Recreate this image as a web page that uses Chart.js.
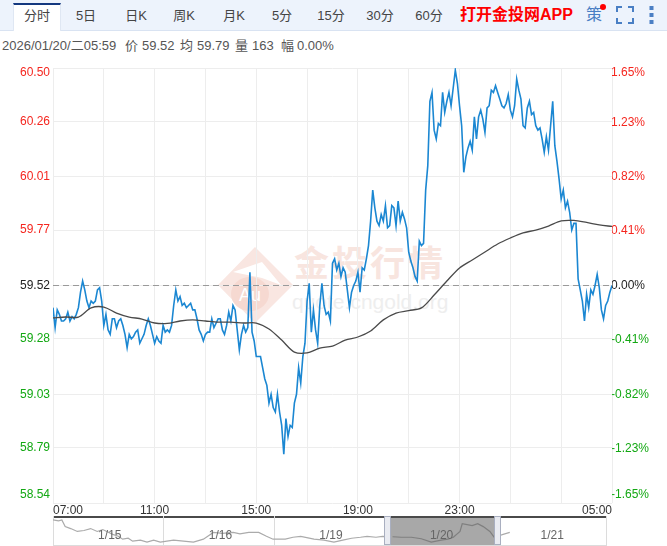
<!DOCTYPE html>
<html lang="zh">
<head>
<meta charset="utf-8">
<title>分时</title>
<script src="https://cdn.jsdelivr.net/npm/chart.js@4/dist/chart.umd.min.js"></script>
<style>
html,body{margin:0;padding:0;background:#fff;width:667px;height:546px;overflow:hidden;font-family:"Liberation Sans","Noto Sans CJK SC",sans-serif}
#wrap{position:relative;width:667px;height:546px;overflow:hidden}
.abs{position:absolute;white-space:nowrap}
#bar{left:0;top:0;width:667px;height:30px;background:#edf3fc;border-bottom:1px solid #d9e3f2}
#tabOn{left:13px;top:3px;width:48px;height:28px;background:#fff;border-top:2px solid #14387f;border-left:1px solid #dfe7f3;border-right:1px solid #dfe7f3;box-sizing:border-box}
.tab{top:8px;font-size:13px;line-height:16px;color:#444;transform:translateX(-50%)}
.info{top:38px;font-size:13px;line-height:16px;color:#555}
#app{left:460px;top:5px;font-size:16px;line-height:20px;font-weight:bold;color:#f00}
#ce{left:586px;top:5px;font-size:16px;line-height:20px;color:#4a7fc4}
#dot{left:600px;top:4px;width:6px;height:6px;border-radius:50%;background:#f00}
canvas{position:absolute;display:block}
#wm{position:absolute;left:0;top:0}
#sel{left:391px;top:518px;width:103px;height:27px;background:#a8a8a8}
.hd{top:516px;width:7px;height:29px;background:#e9ebf1;border:1px solid #a9afc0;box-sizing:border-box}
#navTop{left:53px;top:516px;width:553px;height:2px;background:#4a4a4a}
#navBot{left:53px;top:545px;width:554px;height:1px;background:#dcdcdc}
</style>
</head>
<body>
<div id="wrap">
  <svg id="wm" width="667" height="546" xmlns="http://www.w3.org/2000/svg">
    <polygon points="218,285 255,247 293,285 255,323" fill="#f9e6e1"/>
    <polygon points="233,272 262,262 281,285 262,278" fill="#ffffff"/>
    <ellipse cx="250" cy="294" rx="19" ry="17" fill="#f6d9d1"/>
    <text x="250" y="301" font-size="18" fill="#ffffff" text-anchor="middle" font-family="Liberation Sans">Au</text>
    <text x="294" y="276" font-size="35" letter-spacing="3" font-weight="bold" fill="#f8e5df" font-family="Noto Sans CJK SC">金投行情</text>
    <text x="292" y="309" font-size="21" fill="#eeeeee" font-family="Liberation Sans">quote.cngold.org</text>
  </svg>
  <div id="bar" class="abs"></div>
  <div id="tabOn" class="abs"></div>
  <div class="abs tab" style="left:37px">分时</div>
  <div class="abs tab" style="left:86px">5日</div>
  <div class="abs tab" style="left:136px">日K</div>
  <div class="abs tab" style="left:184px">周K</div>
  <div class="abs tab" style="left:234px">月K</div>
  <div class="abs tab" style="left:282px">5分</div>
  <div class="abs tab" style="left:331px">15分</div>
  <div class="abs tab" style="left:380px">30分</div>
  <div class="abs tab" style="left:429px">60分</div>
  <div id="app" class="abs">打开金投网APP</div>
  <div id="ce" class="abs">策</div>
  <div id="dot" class="abs"></div>
  <svg class="abs" style="left:616px;top:6px" width="18" height="18" fill="none" stroke="#4a7fc4" stroke-width="2">
    <path d="M1 6V1H6M12 1H17V6M17 12V17H12M6 17H1V12"/>
  </svg>
  <svg class="abs" style="left:649px;top:5px" width="6" height="20" fill="#4a7fc4">
    <rect x="0.5" y="1" width="4" height="4"/><rect x="0.5" y="8" width="4" height="4"/><rect x="0.5" y="15" width="4" height="4"/>
  </svg>
  <div class="abs info" style="left:2px">2026/01/20/二05:59</div>
  <div class="abs info" style="left:125px">价</div><div class="abs info" style="left:142px">59.52</div>
  <div class="abs info" style="left:180px">均</div><div class="abs info" style="left:197px">59.79</div>
  <div class="abs info" style="left:235px">量</div><div class="abs info" style="left:252px">163</div>
  <div class="abs info" style="left:281px">幅</div><div class="abs info" style="left:297px">0.00%</div>
  <div id="sel" class="abs"></div>
  <canvas id="main" width="667" height="546" style="left:0;top:0;width:667px;height:546px"></canvas>
  <div id="navTop" class="abs"></div>
  <div id="navBot" class="abs"></div>
  <canvas id="nav" width="554" height="30" style="left:53px;top:516px;width:554px;height:30px"></canvas>
  <div class="abs hd" style="left:384px"></div>
  <div class="abs hd" style="left:494px"></div>
</div>
<script>
// price every 5 minutes from 07:00
const prices = [
59.42,59.33,59.41,59.39,59.36,59.36,59.37,59.40,59.36,59.38,
59.37,59.39,59.42,59.49,59.54,59.50,59.45,59.42,59.45,59.44,
59.45,59.50,59.51,59.45,59.34,59.39,59.32,59.30,59.37,59.37,
59.33,59.36,59.37,59.34,59.30,59.24,59.30,59.28,59.29,59.31,
59.32,59.26,59.28,59.30,59.34,59.37,59.34,59.30,59.26,59.29,
59.27,59.26,59.34,59.31,59.32,59.31,59.34,59.43,59.50,59.45,
59.47,59.43,59.44,59.42,59.43,59.44,59.41,59.41,59.37,59.32,
59.30,59.27,59.30,59.31,59.31,59.37,59.33,59.35,59.37,59.37,
59.32,59.30,59.34,59.40,59.36,59.43,59.41,59.32,59.23,59.30,
59.34,59.31,59.33,59.58,59.31,59.27,59.20,59.20,59.20,59.15,
59.10,59.07,58.99,59.03,58.97,58.95,59.03,58.95,58.89,58.76,
58.92,58.84,58.89,58.88,58.99,59.03,59.15,59.08,59.20,59.26,
59.45,59.53,59.31,59.41,59.32,59.26,59.43,59.53,59.43,59.39,
59.40,59.36,59.62,59.64,59.59,59.62,59.56,59.60,59.58,59.50,
59.42,59.49,59.52,59.54,59.58,59.49,59.60,59.59,59.64,59.70,
59.81,59.95,59.87,59.81,59.79,59.84,59.81,59.88,59.78,59.79,
59.88,59.87,59.79,59.90,59.81,59.85,59.82,59.78,59.67,59.63,
59.60,59.56,59.54,59.72,59.70,59.71,59.95,60.06,60.35,60.39,
60.22,60.18,60.25,60.24,60.39,60.30,60.35,60.39,60.33,60.41,
60.49,60.43,60.33,60.24,60.03,60.10,60.14,60.17,60.13,60.28,
60.18,60.28,60.31,60.27,60.21,60.32,60.33,60.40,60.39,60.42,
60.39,60.36,60.33,60.32,60.34,60.38,60.31,60.28,60.33,60.45,
60.40,60.36,60.24,60.23,60.32,60.35,60.29,60.30,60.24,60.22,
60.23,60.18,60.12,60.19,60.13,60.24,60.35,60.15,60.08,60.00,
59.91,59.95,59.87,59.90,59.85,59.77,59.80,59.80,59.55,59.50,
59.45,59.36,59.48,59.42,59.50,59.48,59.52,59.57,59.51,59.41,
59.37,59.43,59.45,59.49,59.52];
// average price every 30 minutes from 07:00
const averages = [
59.374,59.378,59.378,59.419,59.423,59.396,59.378,59.369,59.351,59.349,
59.360,59.365,59.360,59.355,59.355,59.351,59.351,59.324,59.274,59.220,
59.216,59.238,59.247,59.274,59.288,59.315,59.365,59.396,59.407,59.419,
59.477,59.540,59.599,59.635,59.671,59.707,59.734,59.757,59.770,59.788,
59.811,59.813,59.804,59.793,59.786];
const prevClose = 59.52;
const priceTicks = [58.54,58.79,59.03,59.28,59.52,59.77,60.01,60.26,60.50];
const priceTickLabels = ['58.54','58.79','59.03','59.28','59.52','59.77','60.01','60.26','60.50'];
const pctTicks = [-1.65,-1.2375,-0.825,-0.4125,0,0.4125,0.825,1.2375,1.65];
const pctTickLabels = ['-1.65%','-1.23%','-0.82%','-0.41%','0.00%','0.41%','0.82%','1.23%','1.65%'];
const timeLabels = {0:'07:00',240:'11:00',480:'15:00',720:'19:00',960:'23:00',1320:'05:00'};
const sessionMinutes = 1320;
// navigator: days since 1/15 and price
const navDays = [0,.05,.08,.11,.16,.22,.28,.34,.40,.45,.54,.59,.63,.68,.72,.79,.85,.91,.97,1.09,1.18,1.27,1.36,1.45,1.53,1.63,1.69,1.77,1.86,1.93,1.99,2.10,2.17,2.24,2.36,2.45,2.54,2.62,2.70,2.78,2.84,2.92,2.98,3.07,3.15,3.24,3.33,3.42,3.51,3.57,3.62,3.68,3.70,3.79,3.84,3.89,3.95,3.99,4.07,4.13];
const navPrices = [60.86,60.77,60.86,60.23,60.05,59.78,59.87,60.05,59.78,59.96,59.51,59.33,59.06,59.15,58.88,58.97,58.79,58.97,58.79,58.97,58.88,58.79,59.06,59.69,59.60,59.69,59.56,59.69,59.69,59.33,59.06,59.06,59.24,59.33,59.06,58.97,58.79,58.97,59.15,59.24,59.33,59.24,59.33,59.29,59.24,59.24,59.10,58.79,58.97,59.06,59.24,59.78,60.50,60.32,60.50,60.23,59.78,59.24,59.51,59.69];
const navLabels = ['1/15','1/16','1/19','1/20','1/21'];
const selectedDay = [3.0,4.0];

const FONT = '"Liberation Sans","Noto Sans CJK SC",sans-serif';
const RED='#f5261f', GREEN='#13a813', BLACK='#222';
const priceXY = prices.map((v,i)=>({x:i*5,y:v}));
const avgXY = averages.map((v,i)=>({x:i*30,y:v}));
const zeroXY = [{x:0,y:prevClose},{x:sessionMinutes,y:prevClose}];
const colorFor = i => i<4?GREEN:(i>4?RED:BLACK);

new Chart(document.getElementById('main'),{
  type:'line',
  data:{datasets:[
    {label:'昨收',data:zeroXY,borderColor:'#9a9a9a',borderWidth:1,borderDash:[6,4],pointRadius:0,order:3},
    {label:'价',data:priceXY,borderColor:'#1b87d2',borderWidth:1.6,pointRadius:0,tension:0,order:2},
    {label:'均',data:avgXY,borderColor:'#4a4a4a',borderWidth:1.3,pointRadius:0,tension:0.3,order:1}
  ]},
  options:{
    responsive:false,animation:false,devicePixelRatio:1,
    layout:{padding:{top:68,left:0,right:0,bottom:0}},
    plugins:{legend:{display:false},tooltip:{enabled:false}},
    scales:{
      x:{type:'linear',min:0,max:sessionMinutes,position:'bottom',
        afterBuildTicks(s){const t=[];for(let m=0;m<=sessionMinutes;m+=120)t.push({value:m});s.ticks=t;},
        afterFit(s){s.height=43;},
        border:{display:false},
        grid:{color:'#ededed',lineWidth:1,drawTicks:false},
        ticks:{autoSkip:false,maxRotation:0,align:'inner',padding:0,color:'#333',font:{size:12,family:FONT},
          callback:v=>timeLabels[v]||''}},
      y:{type:'linear',position:'left',min:58.54,max:60.50,
        afterBuildTicks(s){s.ticks=priceTicks.map(v=>({value:v}));},
        afterFit(s){s.width=53;},
        border:{display:false},
        grid:{color:'#ededed',lineWidth:1,drawTicks:false},
        ticks:{autoSkip:false,padding:3,
          color:c=>colorFor(c.index),
          font:c=>({size:12,family:FONT,lineHeight:c.index===8?'10px':(c.index===0?'16px':1.2)}),
          callback:(v,i)=>i===8?['',priceTickLabels[i]]:(i===0?[priceTickLabels[i],'']:priceTickLabels[i])}},
      y2:{type:'linear',position:'right',min:-1.65,max:1.65,
        afterBuildTicks(s){s.ticks=pctTicks.map(v=>({value:v}));},
        afterFit(s){s.width=55;},
        border:{display:false},
        grid:{drawOnChartArea:false,drawTicks:false},
        ticks:{autoSkip:false,padding:-1,
          color:c=>colorFor(c.index),
          font:c=>({size:12,family:FONT,lineHeight:c.index===8?'10px':(c.index===0?'16px':1.2)}),
          callback:(v,i)=>i===8?['',pctTickLabels[i]]:(i===0?[pctTickLabels[i],'']:pctTickLabels[i])}}
    }
  }
});

const navDateText = {
  id:'navDateText',
  afterDraw(c){
    const g=c.ctx,s=c.scales.x;
    g.save();g.font='12px '+FONT;g.fillStyle='#666';g.textAlign='center';g.textBaseline='middle';
    navLabels.forEach((t,i)=>g.fillText(t,s.getPixelForValue(i+0.5)+1.5,20));
    g.restore();
  }
};
new Chart(document.getElementById('nav'),{
  type:'line',
  data:{datasets:[{label:'走势',data:navDays.map((d,i)=>({x:d,y:navPrices[i]})),borderColor:'#ababab',borderWidth:1.2,pointRadius:0,tension:0,
    segment:{borderColor:c=>(c.p0.parsed.x>=selectedDay[0]&&c.p1.parsed.x<=selectedDay[1])?'#7f7f7f':'#ababab'}}]},
  plugins:[navDateText],
  options:{
    responsive:false,animation:false,devicePixelRatio:1,
    layout:{padding:{right:1}},
    plugins:{legend:{display:false},tooltip:{enabled:false}},
    scales:{
      x:{type:'linear',min:0,max:5,display:true,
        afterFit(s){s.height=1;},
        afterBuildTicks(s){s.ticks=[0,1,2,3,4,5].map(v=>({value:v}));},
        border:{display:false},
        grid:{color:'#dcdcdc',drawTicks:false},
        ticks:{display:false}},
      y:{type:'linear',min:58.52,max:61.22,display:false}
    }
  }
});
</script>
</body>
</html>
